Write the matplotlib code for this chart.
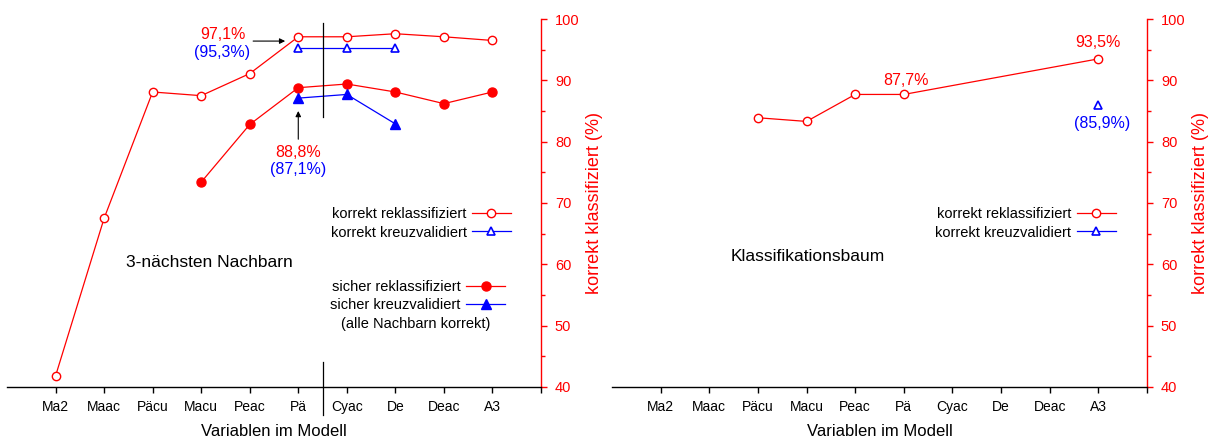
import numpy as np
import matplotlib.pyplot as plt
from matplotlib.ticker import MultipleLocator

plt.rcParams['font.family'] = ['Liberation Sans', 'DejaVu Sans']

RED = '#ff0000'
BLUE = '#0000ff'
nan = np.nan

variables = ["Ma2", "Maac", "Päcu", "Macu", "Peac", "Pä", "Cyac", "De", "Deac", "A3"]

# 3-nearest-neighbours classifier
knn_korrekt_reklass = [41.8, 67.5, 88.1, 87.5, 91.1, 97.1, 97.1, 97.6, 97.1, 96.5]
knn_korrekt_kreuz = [nan, nan, nan, nan, nan, 95.3, 95.3, 95.3, nan, nan]
knn_sicher_reklass = [nan, nan, nan, 73.4, 82.8, 88.8, 89.4, 88.1, 86.2, 88.1]
knn_sicher_kreuz = [nan, nan, nan, nan, nan, 87.1, 87.7, 82.9, nan, nan]

# classification tree
baum_korrekt_reklass = [nan, nan, 83.9, 83.3, 87.7, 87.7, nan, nan, nan, 93.5]
baum_korrekt_kreuz = [nan, nan, nan, nan, nan, nan, nan, nan, nan, 85.9]


def valid(values):
    y = np.asarray(values, dtype=float)
    x = np.arange(len(y))
    m = np.isfinite(y)
    return x[m], y[m]


open_circle = dict(marker='o', ms=6, mfc='white', mec=RED, mew=1.0, color=RED, lw=0.9)
open_tri = dict(marker='^', ms=6, mfc='white', mec=BLUE, mew=1.2, color=BLUE, lw=0.9)
full_circle = dict(marker='o', ms=6.5, mfc=RED, mec=RED, color=RED, lw=0.9)
full_tri = dict(marker='^', ms=7.5, mfc=BLUE, mec=BLUE, color=BLUE, lw=0.9)

fig = plt.figure(figsize=(12.08, 4.41), dpi=100)
ax1 = fig.add_axes([7 / 1208, 54 / 441, 534 / 1208, 368 / 441])
ax2 = fig.add_axes([612 / 1208, 54 / 441, 535 / 1208, 368 / 441])


def style_axis(ax):
    ax.set_xlim(-1, 10)
    ax.set_ylim(40, 100)
    for s in ('top', 'left'):
        ax.spines[s].set_visible(False)
    ax.spines['bottom'].set_color('black')
    ax.spines['bottom'].set_linewidth(1.0)
    ax.spines['right'].set_color(RED)
    ax.spines['right'].set_linewidth(1.0)
    ax.set_xticks(range(len(variables) + 1))
    ax.set_xticklabels(variables + [''])
    ax.tick_params(axis='x', direction='out', length=4.5, width=1.0, pad=5,
                   labelsize=10, colors='black')
    ax.yaxis.tick_right()
    ax.yaxis.set_label_position('right')
    ax.yaxis.set_major_locator(MultipleLocator(10))
    ax.yaxis.set_minor_locator(MultipleLocator(5))
    ax.tick_params(axis='y', which='major', direction='out', length=4.5, width=1.0,
                   pad=5.5, labelsize=10.5, colors=RED)
    ax.tick_params(axis='y', which='minor', direction='out', length=3, width=1.0, colors=RED)
    ax.set_xlabel('Variablen im Modell', fontsize=12, labelpad=7)
    ax.set_ylabel('korrekt klassifiziert (%)', fontsize=13, color=RED, labelpad=5)


style_axis(ax1)
style_axis(ax2)

# ---- left panel: 3 nearest neighbours
l1, = ax1.plot(*valid(knn_korrekt_reklass), **open_circle, clip_on=False)
l2, = ax1.plot(*valid(knn_korrekt_kreuz), **open_tri)
l3, = ax1.plot(*valid(knn_sicher_reklass), **full_circle)
l4, = ax1.plot(*valid(knn_sicher_kreuz), **full_tri)

# separator between the two variable groups
ax1.plot([5.5, 5.5], [84.0, 99.4], color='black', lw=0.9)
ax1.plot([5.5, 5.5], [44.0, 35.4], color='black', lw=0.9, clip_on=False)

ax1.text(3.44, 97.4, '97,1%', color=RED, fontsize=11.5, ha='center', va='center')
ax1.text(3.44, 94.6, '(95,3%)', color=BLUE, fontsize=11.5, ha='center', va='center')
ax1.annotate('', xy=(4.73, 96.4), xytext=(4.07, 96.4),
             arrowprops=dict(arrowstyle='-|>', color='black', lw=0.8,
                             mutation_scale=8, shrinkA=0, shrinkB=0))
ax1.text(5.0, 78.2, '88,8%', color=RED, fontsize=11.5, ha='center', va='center')
ax1.text(5.0, 75.4, '(87,1%)', color=BLUE, fontsize=11.5, ha='center', va='center')
ax1.annotate('', xy=(5.0, 85.0), xytext=(5.0, 80.4),
             arrowprops=dict(arrowstyle='-|>', color='black', lw=0.8,
                             mutation_scale=8, shrinkA=0, shrinkB=0))

leg_kw = dict(frameon=False, markerfirst=False, numpoints=1, fontsize=10.5,
              handlelength=2.7, handletextpad=0.35, labelspacing=0.3,
              borderpad=0, borderaxespad=0, loc='center right')
leg1 = ax1.legend([l1, l2], ['korrekt reklassifiziert', 'korrekt kreuzvalidiert'],
                  bbox_to_anchor=(0.944, 0.4446), **leg_kw)
ax1.add_artist(leg1)
ax1.legend([l3, l4], ['sicher reklassifiziert', 'sicher kreuzvalidiert'],
           bbox_to_anchor=(0.933, 0.247), **leg_kw)
ax1.text(0.765, 0.171, '(alle Nachbarn korrekt)', transform=ax1.transAxes,
         fontsize=10.5, ha='center', va='center')
ax1.text(0.223, 0.326, '3-nächsten Nachbarn', transform=ax1.transAxes,
         fontsize=12.5, ha='left', va='baseline')

# ---- right panel: classification tree
r1, = ax2.plot(*valid(baum_korrekt_reklass), **open_circle)
r2, = ax2.plot(*valid(baum_korrekt_kreuz), **open_tri)

ax2.text(5.04, 89.9, '87,7%', color=RED, fontsize=11.5, ha='center', va='center')
ax2.text(9.0, 96.1, '93,5%', color=RED, fontsize=11.5, ha='center', va='center')
ax2.text(9.07, 82.9, '(85,9%)', color=BLUE, fontsize=11.5, ha='center', va='center')

ax2.legend([r1, r2], ['korrekt reklassifiziert', 'korrekt kreuzvalidiert'],
           bbox_to_anchor=(0.942, 0.4446), **leg_kw)
ax2.text(0.222, 0.342, 'Klassifikationsbaum', transform=ax2.transAxes,
         fontsize=12.5, ha='left', va='baseline')

fig.savefig('out.png', dpi=100)
